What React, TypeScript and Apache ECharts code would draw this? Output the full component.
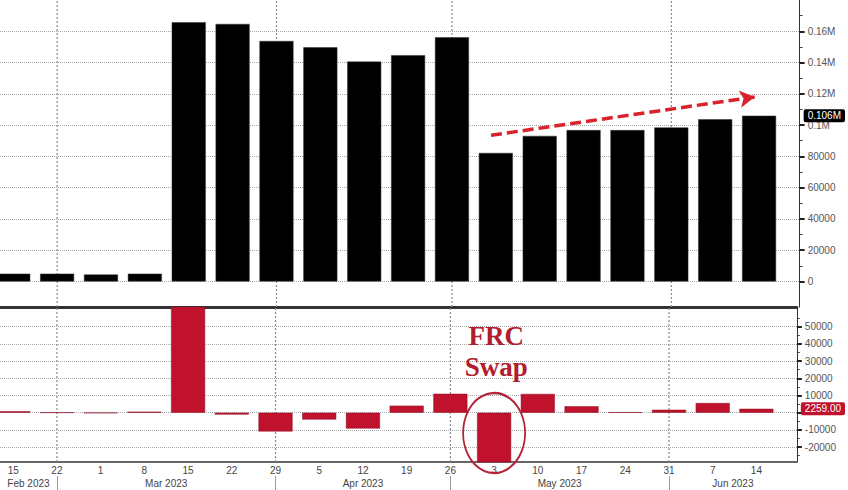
import React, { useEffect, useRef } from "react";
import * as echarts from "echarts";

// ---- data ----
const dayLabels = ["15", "22", "1", "8", "15", "22", "29", "5", "12", "19", "26", "3", "10", "17", "24", "31", "7", "14"];
const balance = [5000, 5000, 4500, 5000, 165800, 164700, 153800, 149800, 140600, 144700, 156200, 82200, 93100, 96800, 96800, 98500, 103700, 106000];
const weeklyChange = [800, 100, -200, 600, 160800, -1100, -10900, -4000, -9200, 4100, 11000, -74000, 10900, 3700, 200, 1700, 5600, 2259];
const monthNames = ["Feb 2023", "Mar 2023", "Apr 2023", "May 2023", "Jun 2023"];
const monthBreaks = [1, 6, 10, 15]; // index of last week of each month
const topTicks = [0, 20000, 40000, 60000, 80000, 100000, 120000, 140000, 160000];
const topMinorTicks = [10000, 30000, 50000, 70000, 90000, 110000, 130000, 150000, 170000];
const bottomTicks = [-20000, -10000, 0, 10000, 20000, 30000, 40000, 50000];
const bottomMinorTicks = [-25000, -15000, -5000, 5000, 15000, 25000, 35000, 45000, 55000];
const lastBalance = 106000;
const lastChange = 2259;
const trendStart = [10.89, 93500];
const trendEnd = [16.9, 118000];

const X_MIN = -0.302;
const X_MAX = 17.925;
const TOP_MIN = -16320;
const TOP_MAX = 180000;
const BOT_MIN = -28660;
const BOT_MAX = 61450;

const FONT = "Liberation Sans";
const RED = "#c0122c";

export default function App() {
  const ref = useRef<HTMLDivElement>(null);
  useEffect(() => {
    if (!ref.current) return;
    const chart = echarts.init(ref.current, undefined, { renderer: "svg" });
    const monthCenters: number[] = [];
    const bounds = [X_MIN, ...monthBreaks, X_MAX];
    for (let k = 0; k < bounds.length - 1; k++) monthCenters.push((bounds[k] + bounds[k + 1]) / 2);

    const fmtTop = (v: number) => (v >= 100000 ? v / 1e6 + "M" : String(v));
    const dotted = { type: "dotted" as const, color: "#a8a8a8", width: 1 };
    const vDotted = { type: [2, 2] as any, color: "#8a8a8a", width: 1.2 };

    const mainY = (grid: number, min: number, max: number, ticks: number[], labelTicks: number[], fmt: (v: number) => string) => ({
      type: "value",
      gridIndex: grid,
      position: "right",
      min,
      max,
      axisLine: { show: true, onZero: false, lineStyle: { color: "#333", width: 1 } },
      axisTick: { show: true, customValues: ticks, length: 5, lineStyle: { color: "#222", width: 2 } },
      axisLabel: { customValues: labelTicks, formatter: fmt, color: "#555", fontFamily: FONT, fontSize: 10, margin: 8 },
      splitLine: { show: true, lineStyle: dotted },
    });
    const dummyY = (grid: number, min: number, max: number) => ({
      type: "value",
      gridIndex: grid,
      position: "left",
      min,
      max,
      show: false,
      axisLine: { show: false, onZero: false },
      splitLine: { show: false },
    });
    const tagY = (grid: number, min: number, max: number, minor: number[], value: number, fmt: (v: number) => string, bg: string) => ({
      type: "value",
      gridIndex: grid,
      position: "right",
      min,
      max,
      z: 10,
      axisLine: { show: false, onZero: false },
      axisTick: { show: true, customValues: minor, length: 3, lineStyle: { color: "#444" } },
      axisLabel: {
        customValues: [value],
        formatter: fmt,
        color: "#fff",
        backgroundColor: bg,
        padding: [2, 4, 1, 4],
        borderRadius: 2,
        fontFamily: FONT,
        fontSize: 10,
        margin: 4,
      },
      splitLine: { show: false },
    });

    const monthLineSeries = (xi: number, yi: number, lo: number, hi: number) =>
      monthBreaks.map((b) => ({
        type: "line",
        xAxisIndex: xi,
        yAxisIndex: yi,
        silent: true,
        z: 1,
        symbol: "none",
        clip: false,
        data: [
          [b, lo],
          [b, hi],
        ],
        lineStyle: vDotted,
      }));

    const option: any = {
      animation: false,
      backgroundColor: "#ffffff",
      grid: [
        { left: 0, right: 46, top: 0, height: 307 },
        { left: 0, right: 46, top: 307, height: 155 },
      ],
      xAxis: [
        { type: "value", gridIndex: 0, min: X_MIN, max: X_MAX, show: false, axisLine: { onZero: false } },
        {
          type: "value",
          gridIndex: 1,
          min: X_MIN,
          max: X_MAX,
          position: "bottom",
          axisLine: { show: true, onZero: false, lineStyle: { color: "#666", width: 2 } },
          axisTick: { show: false },
          splitLine: { show: false },
          axisLabel: {
            customValues: dayLabels.map((_, i) => i),
            formatter: (v: number) => dayLabels[Math.round(v)] ?? "",
            color: "#444",
            fontFamily: FONT,
            fontSize: 10,
            margin: 3,
          },
        },
        {
          type: "value",
          gridIndex: 1,
          min: X_MIN,
          max: X_MAX,
          position: "bottom",
          offset: 14,
          axisLine: { show: false, onZero: false },
          axisTick: { show: true, customValues: monthBreaks, length: 15, lineStyle: { color: "#999", width: 1 } },
          splitLine: { show: false },
          axisLabel: {
            customValues: monthCenters,
            formatter: (v: number) => {
              let best = 0;
              monthCenters.forEach((c, k) => {
                if (Math.abs(c - v) < Math.abs(monthCenters[best] - v)) best = k;
              });
              return monthNames[best];
            },
            color: "#444",
            fontFamily: FONT,
            fontSize: 10,
            margin: 2,
          },
        },
        {
          type: "value",
          gridIndex: 1,
          min: X_MIN,
          max: X_MAX,
          position: "top",
          axisLine: { show: true, onZero: false, lineStyle: { color: "#333", width: 3 } },
          axisTick: { show: false },
          axisLabel: { show: false },
          splitLine: { show: false },
        },
      ],
      yAxis: [
        mainY(0, TOP_MIN, TOP_MAX, topTicks, topTicks, fmtTop),
        dummyY(0, TOP_MIN, TOP_MAX),
        tagY(0, TOP_MIN, TOP_MAX, topMinorTicks, lastBalance, (v) => v / 1e6 + "M", "#000"),
        mainY(1, BOT_MIN, BOT_MAX, bottomTicks, bottomTicks.filter((t) => t !== 0), (v) => String(v)),
        dummyY(1, BOT_MIN, BOT_MAX),
        tagY(1, BOT_MIN, BOT_MAX, bottomMinorTicks, lastChange, (v) => v.toFixed(2), RED),
      ],
      series: [
        ...monthLineSeries(0, 0, TOP_MIN, TOP_MAX),
        ...monthLineSeries(1, 3, BOT_MIN, BOT_MAX),
        {
          type: "bar",
          xAxisIndex: 0,
          yAxisIndex: 0,
          barWidth: 34,
          clip: true,
          z: 2,
          data: balance.map((v, i) => [i, v]),
          itemStyle: { color: "#000", borderColor: "#333", borderWidth: 0.5 },
        },
        {
          type: "line",
          xAxisIndex: 0,
          yAxisIndex: 0,
          data: [],
          z: 3,
          markLine: {
            silent: true,
            animation: false,
            symbol: ["none", "arrow"],
            symbolSize: [13, 15],
            label: { show: false },
            lineStyle: { color: "#d8232a", width: 3.5, type: [11, 5] },
            data: [[{ coord: trendStart }, { coord: trendEnd }]],
          },
        },
        {
          type: "bar",
          xAxisIndex: 1,
          yAxisIndex: 3,
          barWidth: 34,
          clip: true,
          z: 2,
          data: weeklyChange.map((v, i) => [i, v]),
          itemStyle: { color: RED, borderColor: "#8a0a1e", borderWidth: 0.5 },
          markPoint: {
            silent: true,
            animation: false,
            data: [
              {
                coord: [11, -11800],
                symbol: "circle",
                symbolSize: [62, 80],
                itemStyle: { color: "rgba(0,0,0,0)", borderColor: "#b3243a", borderWidth: 2 },
                label: { show: false },
              },
              {
                coord: [11.05, 35500],
                symbol: "circle",
                symbolSize: 0,
                label: {
                  show: true,
                  position: "inside",
                  formatter: "FRC\nSwap",
                  color: "#b11d2e",
                  fontFamily: "Liberation Serif",
                  fontWeight: "bold",
                  fontSize: 27,
                  lineHeight: 31,
                },
              },
            ],
          },
        },
      ],
    };
    chart.setOption(option);
    return () => chart.dispose();
  }, []);
  return <div ref={ref} style={{ position: "absolute", left: 0, top: 0, width: 848, height: 490 }} />;
}
